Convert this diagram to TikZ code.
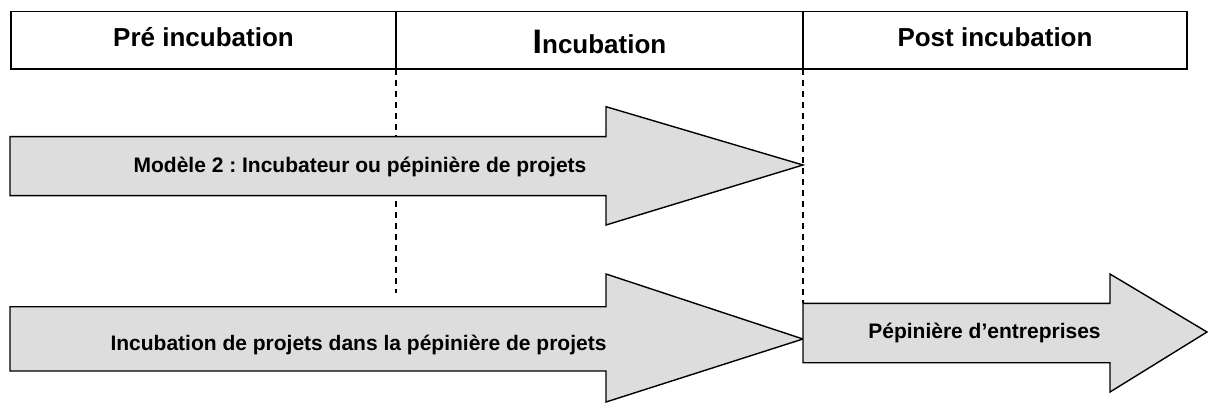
\documentclass[tikz,border=0pt]{standalone}
\usepackage{fontspec}
\setmainfont{Liberation Sans}
\frenchspacing
\begin{document}
\begin{tikzpicture}[x=1pt,y=-1pt,
  headbox/.style={draw=black,line width=1.6pt},
  headtext/.style={font=\bfseries\fontsize{26}{30}\selectfont,anchor=base,inner sep=0pt},
  arrowtext/.style={font=\bfseries\fontsize{21}{25}\selectfont,anchor=base,inner sep=0pt},
  bigarrow/.style={draw=black,fill=gray!27,line width=1.4pt,line join=miter},
  guide/.style={draw=black,line width=1.2pt,dash pattern=on 6pt off 5pt}]
\useasboundingbox (0,0) rectangle (1209,403);
% header
\coordinate (h1) at (11,11.7);
\coordinate (h2) at (1187,69);
\coordinate (d1t) at (396,11.7);
\coordinate (d1b) at (396,69);
\coordinate (d2t) at (803,11.7);
\coordinate (d2b) at (803,69);
\coordinate (g1e) at (396,293);
\coordinate (g2e) at (803,303.3);
% guides (behind arrows)
\draw[guide] (d1b) -- (g1e);
\draw[guide] (d2b) -- (g2e);
\draw[headbox] (h1) rectangle (h2);
\draw[headbox] (d1t) -- (d1b);
\draw[headbox] (d2t) -- (d2b);
\node[headtext] (pre) at (203.5,46.7) {Pré incubation};
\node[headtext] (inc) at (599.5,53.3) {{\fontsize{34}{36}\selectfont I}ncubation};
\node[headtext] (post) at (995,46.7) {Post incubation};
% arrow 1
\draw[bigarrow] (10,136.7) -- (606,136.7) -- (606,106.7) -- (803,165) -- (606,225) -- (606,195.7) -- (10,195.7) -- cycle;
\node[arrowtext] (a1) at (360,173) {Modèle 2 : Incubateur ou pépinière de projets};
% arrow 2
\draw[bigarrow] (10,306.7) -- (606,306.7) -- (606,274) -- (803,339) -- (606,402) -- (606,371) -- (10,371) -- cycle;
\node[arrowtext] (a2) at (358.5,350) {Incubation de projets dans la pépinière de projets};
% arrow 3
\draw[bigarrow] (803,303.3) -- (1110,303.3) -- (1110,274) -- (1207,332) -- (1110,392) -- (1110,362.7) -- (803,362.7) -- cycle;
\node[arrowtext] (a3) at (984.5,338.3) {Pépinière d’entreprises};
\end{tikzpicture}
\end{document}
